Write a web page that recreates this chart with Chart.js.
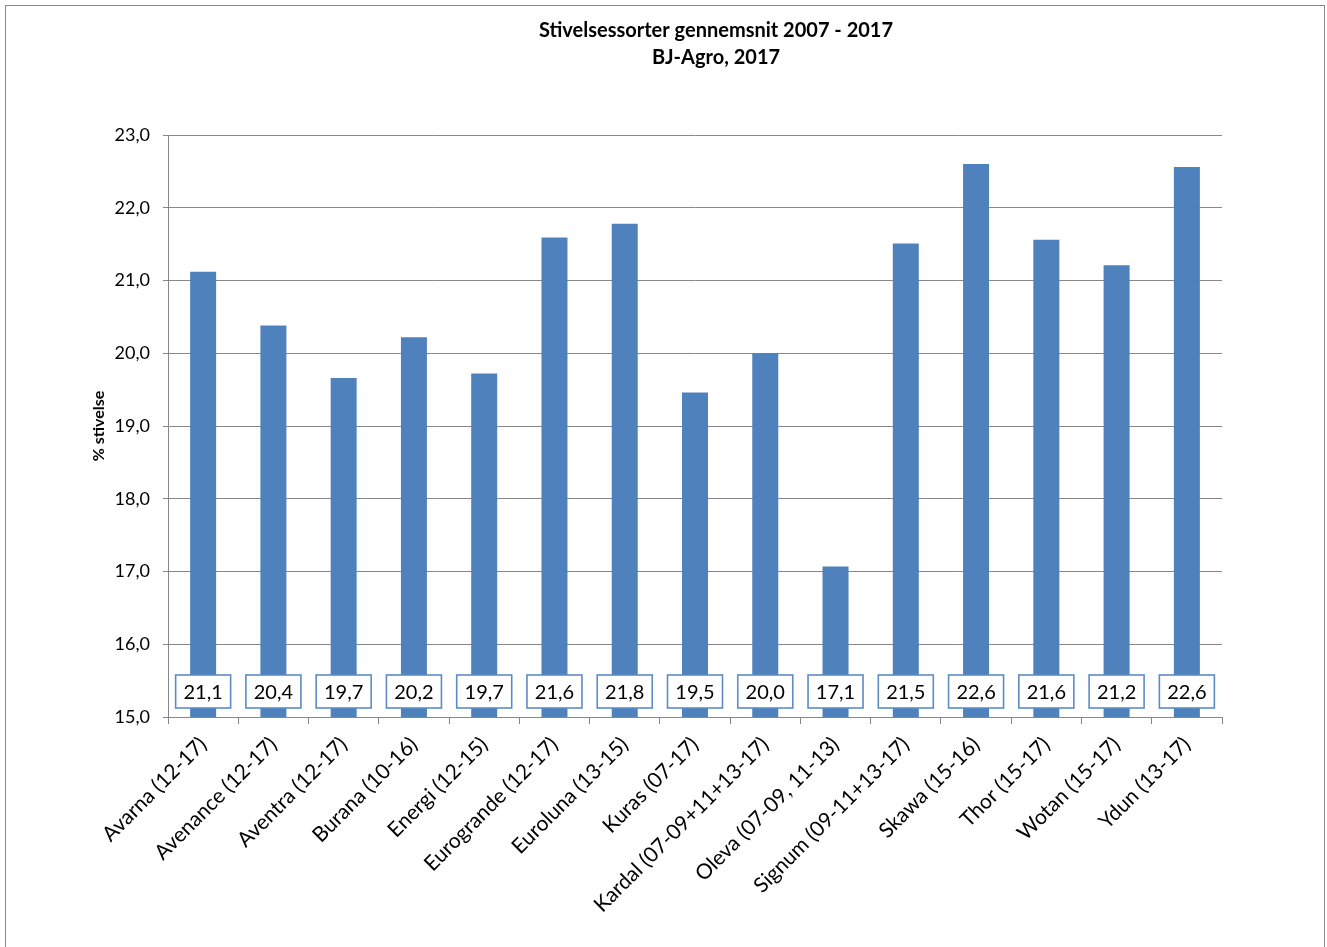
<!DOCTYPE html>
<html>
<head>
<meta charset="utf-8">
<script src="https://cdn.jsdelivr.net/npm/chart.js@4/dist/chart.umd.min.js"></script>
<style>
  html, body { margin: 0; padding: 0; background: #fff; overflow: hidden; }
  #wrap { position: relative; width: 1327px; height: 947px; }
  #frame { position: absolute; left: 5px; top: 5px; width: 1320px; height: 960px; border: 1px solid #8a8a8a; box-sizing: border-box; }
  #c { position: absolute; left: 0; top: 0; }
</style>
</head>
<body>
<div id="wrap">
  <div id="frame"></div>
  <canvas id="c" width="1327" height="947"></canvas>
</div>
<script>
var sorter = ["Avarna (12-17)", "Avenance (12-17)", "Aventra (12-17)", "Burana (10-16)", "Energi (12-15)",
    "Eurogrande (12-17)", "Euroluna (13-15)", "Kuras (07-17)", "Kardal (07-09+11+13-17)", "Oleva (07-09, 11-13)",
    "Signum (09-11+13-17)", "Skawa (15-16)", "Thor (15-17)", "Wotan (15-17)", "Ydun (13-17)"];
var stivelse = [21.12, 20.38, 19.66, 20.22, 19.72, 21.59, 21.78, 19.46, 20.0, 17.07, 21.51, 22.6, 21.56, 21.21, 22.56];
var titleLines = ["Stivelsessorter gennemsnit 2007 - 2017", "BJ-Agro, 2017"];
var yTitle = "% stivelse";

var fontFam = "Lato, 'Open Sans', sans-serif";
var blue = "#4F81BD";
var grey = "#878787";

function komma(v) {
    return v.toFixed(1).replace(".", ",");
}

// boxes with values at the foot of each bar
var labelBoxes = {
    id: "labelBoxes",
    afterDatasetsDraw: function(chart) {
        var ctx = chart.ctx;
        var meta = chart.getDatasetMeta(0);
        var yScale = chart.scales.y;
        var base = yScale.getPixelForValue(15);
        ctx.save();
        ctx.font = "20px " + fontFam;
        ctx.textAlign = "center";
        ctx.textBaseline = "middle";
        meta.data.forEach(function(bar, i) {
            var w = 55, h = 33;
            var x = bar.x - w / 2;
            var y = base - 9 - h;
            ctx.fillStyle = "#fff";
            ctx.fillRect(x, y, w, h);
            ctx.strokeStyle = "#5B8CC8";
            ctx.lineWidth = 1.6;
            ctx.strokeRect(x, y, w, h);
            ctx.fillStyle = "#000";
            ctx.fillText(komma(stivelse[i]), bar.x, y + h / 2 + 1);
        });
        ctx.restore();
    }
};

// title centred like the original
var topTitle = {
    id: "topTitle",
    afterDraw: function(chart) {
        var ctx = chart.ctx;
        ctx.save();
        ctx.font = "bold 20px " + fontFam;
        ctx.fillStyle = "#000";
        ctx.textAlign = "center";
        ctx.textBaseline = "middle";
        ctx.fillText(titleLines[0], 716, 31);
        ctx.fillText(titleLines[1], 716, 58);
        ctx.restore();
    }
};

var ctx = document.getElementById("c");
new Chart(ctx, {
    type: "bar",
    data: {
        labels: sorter,
        datasets: [{
            label: yTitle,
            data: stivelse,
            backgroundColor: blue,
            borderWidth: 0,
            barPercentage: 0.37,
            categoryPercentage: 1.0
        }]
    },
    options: {
        responsive: false,
        animation: false,
        layout: { padding: { left: 0, right: 105, top: 135, bottom: 0 } },
        plugins: {
            legend: { display: false },
            tooltip: { enabled: false }
        },
        scales: {
            x: {
                grid: { display: true, drawOnChartArea: false, drawTicks: true, tickLength: 7, color: grey, offset: true },
                border: { display: true, color: grey, width: 1 },
                ticks: {
                    color: "#000",
                    font: { family: fontFam, size: 21 },
                    minRotation: 45,
                    maxRotation: 45,
                    autoSkip: false,
                    padding: 8
                },
                afterFit: function(scale) { scale.height = 230; }
            },
            y: {
                min: 15,
                max: 23,
                ticks: {
                    stepSize: 1,
                    color: "#000",
                    font: { family: fontFam, size: 18 },
                    padding: 13,
                    callback: function(v) { return komma(v); }
                },
                grid: { color: grey, tickLength: 5, lineWidth: 1 },
                border: { display: true, color: grey, width: 1 },
                title: {
                    display: true,
                    text: yTitle,
                    color: "#000",
                    font: { family: fontFam, size: 16, weight: "bold" },
                    padding: { top: 89, bottom: 0 }
                },
                afterFit: function(scale) { scale.width = 168; }
            }
        }
    },
    plugins: [labelBoxes, topTitle]
});
</script>
</body>
</html>
